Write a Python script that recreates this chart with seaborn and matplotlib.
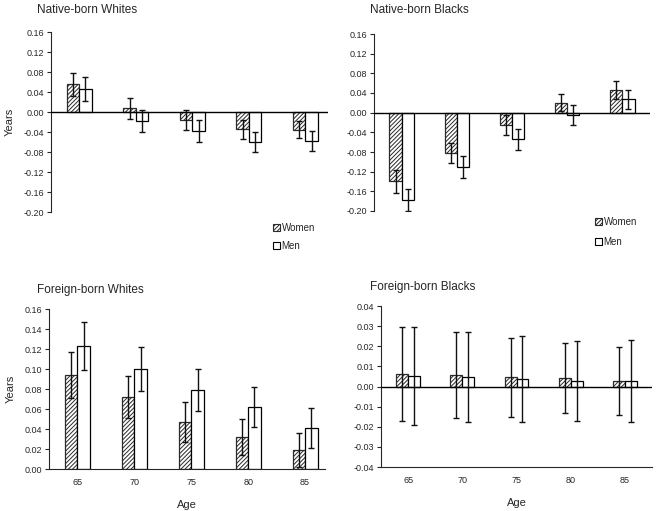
import pandas as pd
import matplotlib
matplotlib.use("Agg")
import matplotlib.pyplot as plt
from matplotlib.patches import Patch
from matplotlib.ticker import FuncFormatter, MultipleLocator
import seaborn as sns

# --- data ---
ages = ["65", "70", "75", "80", "85"]

nbw_women = [0.055, 0.007, -0.016, -0.035, -0.036]
nbw_women_err = [0.023, 0.021, 0.020, 0.019, 0.017]
nbw_men = [0.045, -0.018, -0.038, -0.061, -0.058]
nbw_men_err = [0.024, 0.022, 0.022, 0.020, 0.020]

nbb_women = [-0.140, -0.082, -0.025, 0.020, 0.046]
nbb_women_err = [0.024, 0.021, 0.020, 0.017, 0.018]
nbb_men = [-0.178, -0.110, -0.054, -0.005, 0.027]
nbb_men_err = [0.022, 0.022, 0.021, 0.020, 0.020]

fbw_women = [0.094, 0.072, 0.047, 0.032, 0.019]
fbw_women_err = [0.023, 0.021, 0.020, 0.018, 0.017]
fbw_men = [0.123, 0.100, 0.079, 0.062, 0.041]
fbw_men_err = [0.024, 0.022, 0.021, 0.020, 0.020]

fbb_women = [0.0063, 0.0058, 0.0046, 0.0042, 0.0028]
fbb_women_err = [0.0233, 0.0214, 0.0197, 0.0174, 0.0170]
fbb_men = [0.0053, 0.0046, 0.0038, 0.0028, 0.0028]
fbb_men_err = [0.0244, 0.0224, 0.0214, 0.0197, 0.0202]

sns.set_style("white")
plt.rcParams["font.family"] = ["Liberation Sans", "DejaVu Sans"]
plt.rcParams["hatch.linewidth"] = 0.7

W, H = 662, 511
fig = plt.figure(figsize=(W / 100, H / 100), dpi=100)
HATCH = "////////"


def px_axes(left, top, right, bottom):
    return fig.add_axes([left / W, 1 - bottom / H, (right - left) / W, (bottom - top) / H])


def fmt(v, pos):
    v = round(v, 4)
    if v == 0:
        v = 0.0
    return f"{v:.2f}"


def panel(ax, women, women_err, men, men_err, ylim, step, xmax, bottom_axis):
    df = pd.DataFrame({
        "age": ages * 2,
        "sex": ["Women"] * 5 + ["Men"] * 5,
        "value": women + men,
    })
    sns.barplot(data=df, x="age", y="value", hue="sex", order=ages,
                hue_order=["Women", "Men"], palette=["white", "white"],
                width=0.44, errorbar=None, legend=False, ax=ax)
    for cont, errs, hatch, ec in zip(ax.containers, [women_err, men_err],
                                     [HATCH, ""], ["#2a2a2a", "black"]):
        xs, ys = [], []
        for bar in cont:
            bar.set_hatch(hatch)
            bar.set_edgecolor(ec)
            bar.set_linewidth(0.9)
            xs.append(bar.get_x() + bar.get_width() / 2)
            ys.append(bar.get_y() + bar.get_height())
        ax.errorbar(xs, ys, yerr=errs, fmt="none", ecolor="#111111",
                    elinewidth=1.0, capsize=2.5, capthick=1.0, zorder=5)
    ax.set_ylim(*ylim)
    ax.set_xlim(-0.5, xmax)
    ax.yaxis.set_major_locator(MultipleLocator(step))
    ax.yaxis.set_major_formatter(FuncFormatter(fmt))
    ax.tick_params(axis="y", left=True, length=3, width=0.8, labelsize=6.5, pad=2)
    ax.tick_params(axis="x", bottom=False, labelsize=6.5, pad=3)
    for s in ["top", "right"]:
        ax.spines[s].set_visible(False)
    ax.spines["left"].set_linewidth(0.8)
    ax.spines["bottom"].set_linewidth(0.8)
    if ylim[0] < 0:
        ax.axhline(0, color="black", lw=1.0, zorder=4)
    if not bottom_axis:
        ax.spines["bottom"].set_visible(False)
        ax.set_xticklabels([])
        ax.set_xlabel("")
    else:
        ax.set_xlabel("Age", fontsize=8, labelpad=9)
    ax.set_ylabel("")


ax1 = px_axes(51, 32, 328, 212)
panel(ax1, nbw_women, nbw_women_err, nbw_men, nbw_men_err, (-0.20, 0.16), 0.04, 4.4, False)
ax2 = px_axes(374, 34, 650, 211)
panel(ax2, nbb_women, nbb_women_err, nbb_men, nbb_men_err, (-0.20, 0.16), 0.04, 4.5, False)
ax3 = px_axes(49, 309, 325, 469)
panel(ax3, fbw_women, fbw_women_err, fbw_men, fbw_men_err, (0.0, 0.16), 0.02, 4.35, True)
ax4 = px_axes(381, 306, 652, 467)
panel(ax4, fbb_women, fbb_women_err, fbb_men, fbb_men_err, (-0.04, 0.04), 0.01, 4.5, True)

for ax in (ax1, ax3):
    ax.set_ylabel("Years", fontsize=8, labelpad=6)

# titles
fig.text(37 / W, 1 - 10 / H, "Native-born Whites", fontsize=8.5, va="center")
fig.text(370 / W, 1 - 10 / H, "Native-born Blacks", fontsize=8.5, va="center")
fig.text(37 / W, 1 - 290 / H, "Foreign-born Whites", fontsize=8.5, va="center")
fig.text(370 / W, 1 - 287 / H, "Foreign-born Blacks", fontsize=8.5, va="center")

handles = [Patch(facecolor="white", edgecolor="#2a2a2a", hatch=HATCH, lw=0.8, label="Women"),
           Patch(facecolor="white", edgecolor="black", lw=0.8, label="Men")]
for x, y, sp in ((268, 237, 0.8), (590, 232, 1.0)):
    fig.legend(handles=handles, loc="center left", bbox_to_anchor=(x / W, 1 - y / H),
               frameon=False, fontsize=7, handlelength=0.7, handleheight=0.7,
               handletextpad=0.2, labelspacing=sp, borderpad=0)

fig.savefig("out.png", dpi=100)
